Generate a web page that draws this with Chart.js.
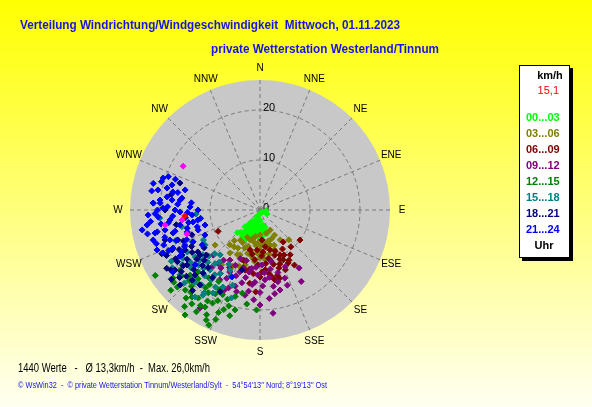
<!DOCTYPE html>
<html>
<head>
<meta charset="utf-8">
<script src="https://cdn.jsdelivr.net/npm/chart.js@4"></script>
<style>
  html, body { margin: 0; padding: 0; background: #ffff00; }
  #rose { display: block; }
</style>
</head>
<body>
<canvas id="rose" width="592" height="407"></canvas>
<script>
// --- data: [direction in degrees, speed in km/h] per 3-hour block ---
const hourLabels = ['00...03', '03...06', '06...09', '09...12', '12...15', '15...18', '18...21', '21...24'];
const hourColors = ['#00ff00', '#808000', '#800000', '#800080', '#008000', '#008080', '#000080', '#0000ff'];
const compassLabels = ['N', 'NNE', 'NE', 'ENE', 'E', 'ESE', 'SE', 'SSE', 'S', 'SSW', 'SW', 'WSW', 'W', 'WNW', 'NW', 'NNW'];
const ringValues = [10, 20];
const ringLabels = [0, 10, 20];
const maxSpeed = 26;

const wind0003 = [[120,1.6],[100,1.2],[150,0.6],[190,1.0],[205,1.4],[180,2.0],[207,2.2],[195,2.6],[215,2.8],[170,3.0],
  [185,3.2],[200,3.4],[218,3.6],[164,3.6],[175,3.9],[190,4.0],[208,4.2],[222,4.5],[165,4.4],[182,4.6],[199,4.9],
  [212,5.0],[163,4.9],[173,5.1],[190,5.4],[205,5.6],[220,5.8],[225,6.4],[214,6.3],[198,6.0],[210,7.0],[180,5.8],
  [200,2.0],[210,3.0],[195,4.4],[205,4.8],[215,5.4],[185,5.2],[170,4.2],[200,5.2],[218,6.0],[207,6.8],[192,4.8],
  [178,4.4],[212,3.9],[203,3.0]];
const wind0306 = [[153,4.5],[165,4.8],[180,5.0],[190,5.4],[198,6.3],[205,6.0],[213,7.2],[220,8.0],[221,9.2],[146,7.2],
  [136,8.3],[158,6.2],[164,7.3],[172,6.8],[180,8.0],[186,7.2],[192,8.4],[198,7.6],[204,9.8],[210,8.8],[192,9.2],
  [211,11.7],[215,13.4],[174,10.0],[180,9.5],[195,11.4],[232,11.4],[168,9.0],[186,10.4],[200,10.6],[207,10.0],
  [160,8.4],[176,6.0],[194,5.8],[215,10.5],[170,7.6],[178,7.0],[184,8.6],[190,6.6],[196,9.0],[202,8.2],[208,7.4],
  [215,9.0],[175,8.8],[165,6.4],[150,5.8],[188,9.8],[200,12.0],[206,12.5],[182,6.4],[158,7.6]];
const wind0609 = [[144,7.9],[150,9.0],[156,9.8],[146,10.8],[148,13.0],[157,13.0],[160,11.5],[166,8.2],[168,10.4],
  [168,14.3],[172,12.8],[175,12.0],[176,6.0],[178,9.2],[182,11.0],[186,10.0],[190,12.0],[194,8.2],[194,12.4],
  [183,16.4],[188,14.8],[243,9.4],[127,10.0],[140,9.6],[152,12.0],[162,9.5],[172,7.4],[184,8.0],[198,10.6],
  [165,13.5],[155,11.0],[180,13.4],[158,10.6],[162,12.2],[166,11.2],[170,9.8],[174,10.8],[178,12.4],[170,13.6],
  [160,8.8],[152,10.2],[186,12.8],[190,9.0],[176,8.4],[164,14.2],[150,11.6]];
const wind0912 = [[146,14.0],[166,16.5],[172.8,20.8],[211.5,23.0],[160,14.5],[164,13.0],[170,12.0],[170,15.5],
  [176,14.0],[178,11.0],[180,16.5],[182,13.0],[186,15.0],[188,11.8],[190,17.3],[192,13.8],[196,12.0],[198,16.0],
  [200,14.0],[204,12.1],[206,15.2],[208,13.0],[210,16.1],[211,11.7],[214,14.0],[216,12.4],[174,17.8],[184,18.0],
  [195,10.5],[202,10.5],[168,10.5],[156,12.4],[220,15.0],[226,13.0],[180,19.0],[150,16.5],[230,14.2],
  [172,13.6],[178,15.2],[184,14.5],[188,16.4],[194,15.0],[198,13.0],[202,16.8],[206,13.8],[190,12.6],[196,17.0],
  [184,11.5],[176,12.6],[166,14.8],[212,15.0],[218,13.6],[204,17.5],[170,17.0],[160,16.0]];
const wind1215 = [[238,24.7],[232,22.1],[227,22.6],[223,21.9],[218,24.5],[215.5,25.8],[218,22.1],[215,21.5],
  [209.5,22.3],[207,23.5],[204,25.2],[207,20.9],[202,22.1],[194,20.6],[188,19.0],[182,20.0],[214,18.0],[207,17.9],
  [219,19.2],[227,19.1],[222,20.5],[212,19.5],[200,19.0],[196,18.0],[230,20.5],[225,17.5],[210,16.5],[200,21.2],
  [235,21.0],[220,23.0],[212,24.0],[192,17.0],[228,24.0],[217,17.0],[204,18.5],[205,20.0],[210,21.0],[215,19.0],
  [220,21.5],[225,20.0],[212,22.5],[216,23.2],[208,19.0],[198,20.2],[222,18.5],[230,22.5],[233,20.0],[202,23.6],
  [206,24.5],[196,22.0]];
const wind1518 = [[236.6,21.0],[231,20.6],[240,16.8],[233.4,17.4],[216.8,21.7],[213.8,20.5],[237.5,13.0],[209.5,19.1],
  [205.7,17.1],[219.8,15.6],[221.6,12.0],[230.2,15.6],[206.6,13.4],[266.4,12.8],[265.4,20.1],[225,18.5],[215,17.0],
  [228,13.8],[212,15.0],[224,16.2],[218,19.0],[235,19.0],[245,15.0],[200,16.0],[210,12.5],[226,21.0],[250,18.0],
  [242,12.8],[198,18.5],[220,14.0],[232,14.5],[258,16.0],[220,17.2],[225,14.8],[230,18.0],[215,15.8],[222,19.5],
  [228,16.5],[234,16.0],[238,18.2],[210,17.8],[218,13.2],[226,12.6],[214,20.0],[204,14.5],[240,20.5]];
const wind1821 = [[233,18.3],[245.6,19.3],[226.8,21.9],[218.7,19.2],[233,15.0],[242,17.0],[234.8,20.8],[225,18.4],
  [206,18.2],[196.7,12.5],[288.6,16.9],[273.7,21.4],[252.5,19.9],[238,16.0],[230,17.0],[228,19.8],[222,17.0],
  [236,21.5],[240,18.0],[248,16.5],[232,20.0],[226,16.0],[238,19.5],[244,20.8],[220,21.0],[230,14.0],[260,17.0],
  [270,19.0],[215,16.5],[236,13.5],[250,14.5],[280,18.0],[228,17.8],[232,16.0],[236,17.6],[240,19.5],[234,19.0],
  [230,21.0],[224,19.5],[236,15.0],[244,18.0],[242,15.5],[228,15.0],[246,21.5],[238,22.0],[250,17.5],[222,15.5],
  [232,22.5]];
const wind2124 = [[288.3,20.4],[285.9,18.3],[281.1,20.8],[283.3,19.1],[281.7,17.8],[278.7,15.8],[276.5,17.7],
  [273.7,21.4],[271.2,19.4],[272.5,14.0],[270,12.4],[268.6,16.0],[267.4,22.4],[266,20.4],[263.7,18.1],[259.8,13.6],
  [262.4,22.8],[260.4,23.9],[257.6,21.5],[255.2,18.0],[253.2,15.2],[254.3,22.2],[246.1,21.2],[248.8,22.1],
  [246.4,19.0],[244.5,14.8],[238.9,13.5],[234.5,21.4],[265.8,13.6],[260.8,12.6],[254.7,11.4],[259.4,16.3],
  [258.1,19.4],[245,16.6],[251.6,19.0],[277.1,16.1],[275.7,20.1],[270,17.0],[285,15.5],[245.6,12.1],[229.8,17.0],
  [202.7,14.5],[264,15.0],[256,17.5],[250,20.5],[272,18.5],[280,22.0],[262,20.0],[242,17.8],[252,13.0],[268,21.0],
  [290,19.5],[266,17.5],[262,18.5],[258,21.0],[254,19.8],[250,17.8],[248,15.8],[256,15.0],[260,14.5],[268,14.5],
  [274,16.5],[278,18.8],[282,16.8],[286,20.5],[274,20.0],[270,20.5],[264,22.0],[258,23.0],[252,21.8],[246,20.0],
  [240,18.5],[244,16.8],[262,12.0],[276,13.8],[284,22.0],[290,18.0],[255,13.0]];
const windGroups = [wind0003, wind0306, wind0609, wind0912, wind1215, wind1518, wind1821, wind2124];
const extraPoints = [[299.7,17.7],[261,19.2],[251.8,15.4],[262.7,15.7]];
const currentWind = [[265.5,15.1]];
const currentLabel = '15,1';

const titleText = 'Verteilung Windrichtung/Windgeschwindigkeit  Mittwoch, 01.11.2023';
const subtitleText = 'private Wetterstation Westerland/Tinnum';
const statsText = '1440 Werte   -   Ø 13,3km/h  -  Max. 26,0km/h';
const footerText = '© WsWin32  -  © private Wetterstation Tinnum/Westerland/Sylt  -  54°54\'13\'\' Nord; 8°19\'13\'\' Ost';

function toXY(p) {
  var a = p[0] * Math.PI / 180;
  return { x: p[1] * Math.sin(a), y: p[1] * Math.cos(a) };
}

// draw text squeezed/stretched to a given width
function fitText(ctx, text, x, y, w) {
  var m = ctx.measureText(text).width;
  ctx.save();
  ctx.translate(x, y);
  ctx.scale(w / m, 1);
  ctx.fillText(text, 0, 0);
  ctx.restore();
}

var datasets = windGroups.map((pts, i) => ({
  label: hourLabels[i],
  data: pts.map(toXY),
  backgroundColor: hourColors[i],
  borderColor: hourColors[i],
  borderWidth: 1,
  pointStyle: 'rectRot',
  pointRadius: 3,
  order: 10 - i
}));
datasets.push({
  label: 'extra', data: extraPoints.map(toXY), backgroundColor: '#ff00ff', borderColor: '#ff00ff',
  borderWidth: 1, pointStyle: 'rectRot', pointRadius: 3, order: 1
});
datasets.push({
  label: 'aktuell', data: currentWind.map(toXY), backgroundColor: '#ff0000', borderColor: '#ff0000',
  borderWidth: 1, pointStyle: 'rectRot', pointRadius: 3, order: 0
});

const rosePlugin = {
  id: 'rose',
  beforeDraw(chart) {
    const ctx = chart.ctx, W = chart.width, H = chart.height;
    const xs = chart.scales.x, ys = chart.scales.y;
    const cx = xs.getPixelForValue(0), cy = ys.getPixelForValue(0);
    const R = xs.getPixelForValue(maxSpeed) - cx;
    ctx.save();
    var g = ctx.createLinearGradient(0, 0, 0, H);
    g.addColorStop(0, '#ffff00');
    g.addColorStop(1, '#fffff2');
    ctx.fillStyle = g;
    ctx.fillRect(0, 0, W, H);

    ctx.fillStyle = '#c8c8c8';
    ctx.beginPath();
    ctx.arc(cx, cy, R, 0, 2 * Math.PI);
    ctx.fill();

    ctx.strokeStyle = '#7a7a7a';
    ctx.lineWidth = 1;
    ctx.setLineDash([4, 3]);
    ringValues.forEach(v => {
      var r = xs.getPixelForValue(v) - cx;
      ctx.beginPath();
      ctx.arc(cx, cy, r, 0, 2 * Math.PI);
      ctx.stroke();
    });
    compassLabels.forEach((lab, i) => {
      var a = i * 22.5 * Math.PI / 180;
      ctx.beginPath();
      ctx.moveTo(cx, cy);
      ctx.lineTo(cx + R * Math.sin(a), cy - R * Math.cos(a));
      ctx.stroke();
    });
    ctx.setLineDash([]);

    ctx.fillStyle = '#000';
    ctx.font = '10px "Liberation Sans", Arial, sans-serif';
    ctx.textAlign = 'center';
    ctx.textBaseline = 'middle';
    compassLabels.forEach((lab, i) => {
      var a = i * 22.5 * Math.PI / 180;
      ctx.fillText(lab, cx + (R + 12) * Math.sin(a), cy - (R + 12) * Math.cos(a));
    });
    ctx.font = '11px "Liberation Sans", Arial, sans-serif';
    ctx.textAlign = 'left';
    ringLabels.forEach(v => {
      var r = xs.getPixelForValue(v) - cx;
      ctx.fillText(String(v), cx + 3, cy - r - 2);
    });
    ctx.restore();
  },
  afterDraw(chart) {
    const ctx = chart.ctx;
    ctx.save();
    ctx.textBaseline = 'middle';
    ctx.textAlign = 'left';
    ctx.fillStyle = '#1414e6';
    ctx.font = 'bold 13px "Liberation Sans", Arial, sans-serif';
    fitText(ctx, titleText, 20, 25, 380);
    fitText(ctx, subtitleText, 211, 49, 228);

    ctx.fillStyle = '#000';
    ctx.font = '12px "Liberation Sans", Arial, sans-serif';
    fitText(ctx, statsText, 18, 369, 192);
    ctx.fillStyle = '#1414e6';
    ctx.font = '9px "Liberation Sans", Arial, sans-serif';
    fitText(ctx, footerText, 18, 386, 309);

    // legend box
    ctx.fillStyle = '#000';
    ctx.fillRect(522, 68, 51, 193);
    ctx.fillStyle = '#fff';
    ctx.fillRect(519, 65, 51, 193);
    ctx.strokeStyle = '#000';
    ctx.lineWidth = 1;
    ctx.strokeRect(519.5, 65.5, 50, 192);

    ctx.fillStyle = '#000';
    ctx.font = 'bold 11px "Liberation Sans", Arial, sans-serif';
    ctx.textAlign = 'center';
    ctx.fillText('km/h', 550, 76);
    ctx.fillText('Uhr', 544, 246);
    ctx.font = '11px "Liberation Sans", Arial, sans-serif';
    ctx.textAlign = 'right';
    ctx.fillStyle = '#ff0000';
    ctx.fillText(currentLabel, 559, 91);
    ctx.font = 'bold 11px "Liberation Sans", Arial, sans-serif';
    ctx.textAlign = 'left';
    hourLabels.forEach((lab, i) => {
      ctx.fillStyle = hourColors[i];
      ctx.fillText(lab, 526, 118 + i * 16);
    });
    ctx.restore();
  }
};

var config = {
  type: 'scatter',
  data: { datasets: datasets },
  options: {
    responsive: false,
    animation: false,
    layout: { padding: { left: 130, right: 202, top: 80, bottom: 67 } },
    scales: {
      x: { type: 'linear', min: -maxSpeed, max: maxSpeed, display: false },
      y: { type: 'linear', min: -maxSpeed, max: maxSpeed, display: false }
    },
    plugins: {
      legend: { display: false },
      tooltip: { enabled: false },
      title: { display: false }
    }
  },
  plugins: [rosePlugin]
};

var rosectx = document.getElementById('rose').getContext('2d');
var rosechart = new Chart(rosectx, config);
</script>
</body>
</html>
